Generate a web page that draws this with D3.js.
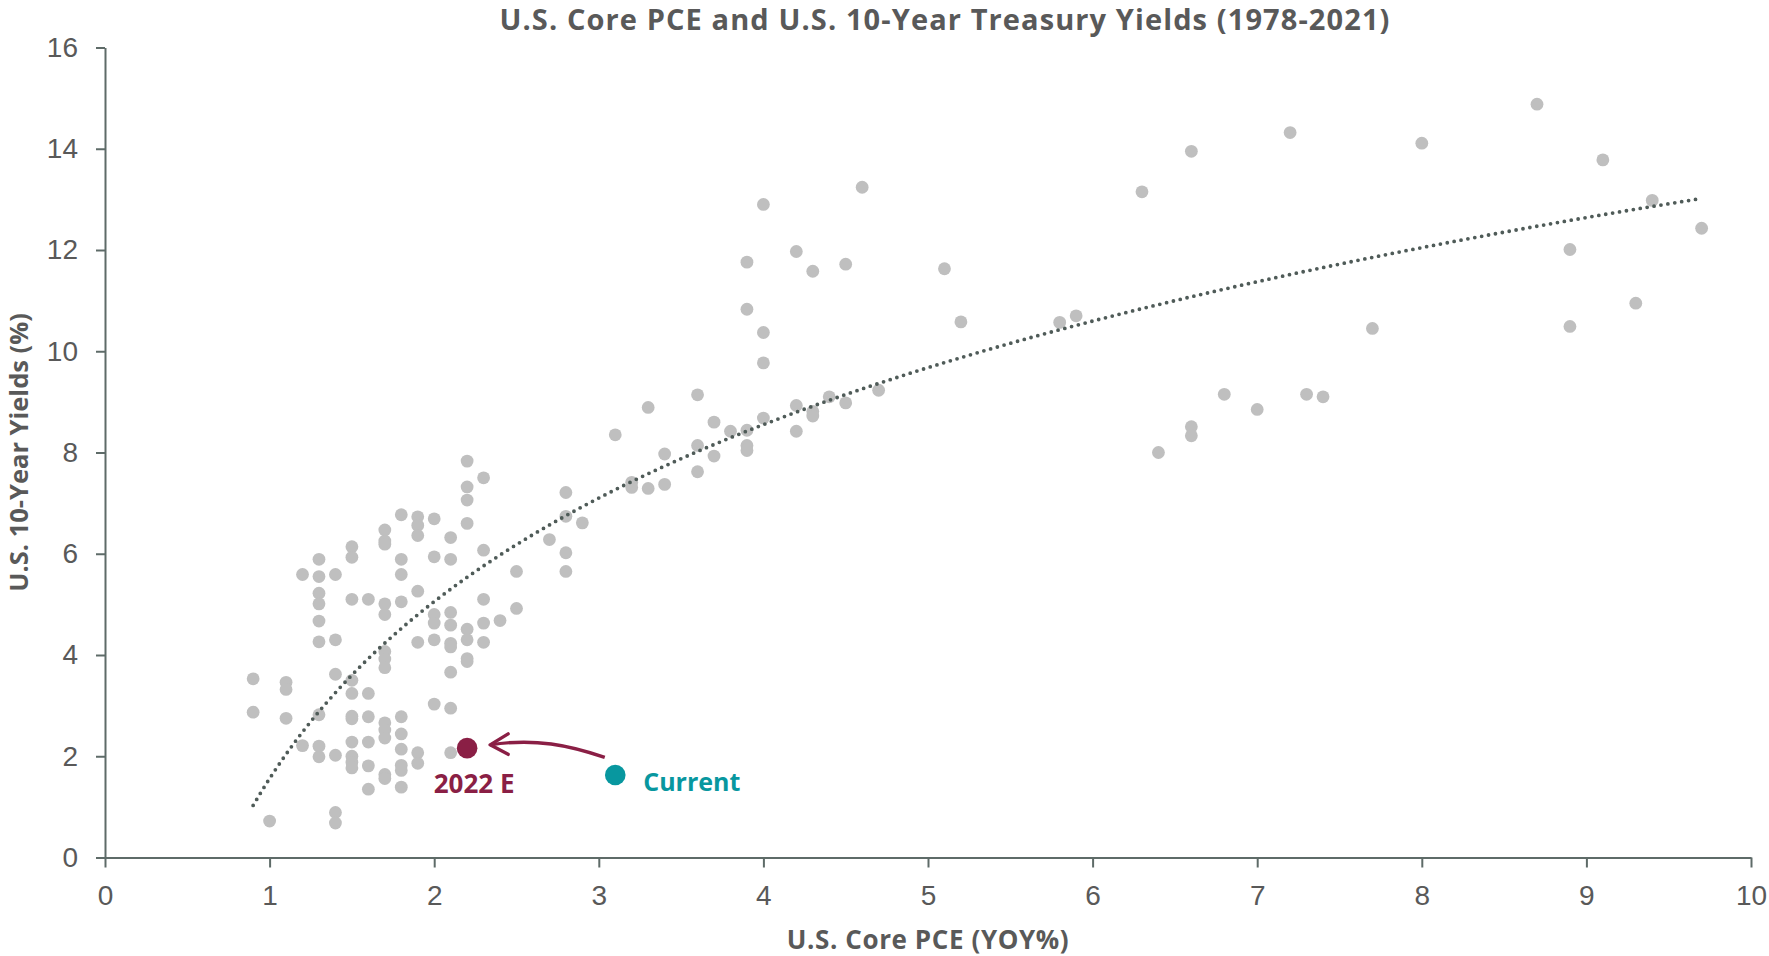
<!DOCTYPE html>
<html>
<head>
<meta charset="utf-8">
<script src="https://cdn.jsdelivr.net/npm/d3@7"></script>
<style>
  body { margin: 0; background: #fff; }
  svg { display: block; font-family: "Open Sans", "Noto Sans", sans-serif; }
  .tick text { fill: #595959; font-size: 28px; font-weight: 300; }
  .axis path, .axis line { stroke: #5e6b68; stroke-width: 2; }
</style>
</head>
<body>
<svg id="chart" width="1769" height="956"></svg>
<script>
// core PCE (YoY %) and 10y yield (%)
const corePce = [
  0.9, 0.9, 1.0, 1.1, 1.1, 1.1, 1.2, 1.2,
  1.3, 1.3, 1.3, 1.3, 1.3, 1.3, 1.3, 1.3, 1.3,
  1.4, 1.4, 1.4, 1.4, 1.4, 1.4,
  1.5, 1.5, 1.5, 1.5, 1.5, 1.5, 1.5, 1.5, 1.5, 1.5, 1.5,
  1.6, 1.6, 1.6, 1.6, 1.6, 1.6,
  1.7, 1.7, 1.7, 1.7, 1.7, 1.7, 1.7, 1.7, 1.7, 1.7, 1.7, 1.7, 1.7,
  1.8, 1.8, 1.8, 1.8, 1.8, 1.8, 1.8, 1.8, 1.8, 1.8,
  1.9, 1.9, 1.9, 1.9, 1.9, 1.9, 1.9,
  2.0, 2.0, 2.0, 2.0, 2.0, 2.0,
  2.1, 2.1, 2.1, 2.1, 2.1, 2.1, 2.1, 2.1, 2.1,
  2.2, 2.2, 2.2, 2.2, 2.2, 2.2, 2.2, 2.2,
  2.3, 2.3, 2.3, 2.3, 2.3,
  2.4, 2.5, 2.5, 2.7, 2.8, 2.8, 2.8, 2.8, 2.9,
  3.1, 3.2, 3.2, 3.3, 3.3, 3.4, 3.4, 3.6, 3.6, 3.6, 3.7, 3.7, 3.8,
  3.9, 3.9, 3.9, 3.9, 3.9, 4.0, 4.0, 4.0, 4.0,
  4.2, 4.2, 4.2, 4.3, 4.3, 4.3, 4.4, 4.5, 4.5, 4.6, 4.7,
  5.1, 5.2, 5.8, 5.9, 6.3, 6.4, 6.6, 6.6, 6.6, 6.8, 7.0, 7.2, 7.3, 7.4,
  7.7, 8.0, 8.7, 8.9, 8.9, 9.1, 9.3, 9.4, 9.7
];
const yield10y = [
  3.53, 2.87, 0.72, 3.46, 3.32, 2.75, 5.59, 2.21,
  5.89, 5.55, 5.22, 5.01, 4.67, 4.26, 2.82, 2.20, 1.99,
  5.59, 4.30, 3.62, 2.02, 0.89, 0.68,
  6.14, 5.93, 5.10, 3.50, 3.24, 2.79, 2.74, 2.28, 2.00, 1.88, 1.77,
  5.10, 3.24, 2.78, 2.28, 1.81, 1.35,
  6.47, 6.25, 6.19, 5.01, 4.80, 4.07, 3.92, 3.75, 2.66, 2.52, 2.36, 1.64, 1.56,
  6.77, 5.89, 5.59, 5.05, 2.78, 2.44, 2.14, 1.82, 1.72, 1.39,
  6.73, 6.56, 6.36, 5.26, 4.25, 2.07, 1.86,
  6.69, 5.94, 4.80, 4.63, 4.30, 3.03,
  6.32, 5.89, 4.84, 4.59, 4.23, 4.16, 3.66, 2.95, 2.07,
  7.83, 7.32, 7.06, 6.60, 4.51, 4.30, 3.93, 3.87,
  7.50, 6.07, 5.10, 4.63, 4.25,
  4.68, 5.65, 4.92, 6.28, 7.21, 6.74, 6.02, 5.65, 6.61,
  8.35, 7.41, 7.31, 8.89, 7.29, 7.97, 7.37, 9.14, 8.14, 7.62, 8.60, 7.93, 8.42,
  11.76, 10.83, 8.44, 8.14, 8.04, 12.90, 10.37, 9.77, 8.68,
  11.97, 8.93, 8.42, 11.58, 8.81, 8.72, 9.10, 11.72, 8.98, 13.24, 9.23,
  11.63, 10.58, 10.57, 10.70, 13.15, 8.00, 13.95, 8.51, 8.33, 9.15, 8.85, 14.32, 9.15, 9.10,
  10.45, 14.11, 14.88, 12.01, 10.49, 13.78, 10.95, 12.98, 12.43
];

// highlighted points
const currentPoint = { pce: 3.1, yld: 1.63, label: "Current" };
const estimatePoint = { pce: 2.2, yld: 2.16, label: "2022 E" };

const xTicks = [0, 1, 2, 3, 4, 5, 6, 7, 8, 9, 10];
const yTicks = [0, 2, 4, 6, 8, 10, 12, 14, 16];

const titleText = "U.S. Core PCE and U.S. 10-Year Treasury Yields (1978-2021)";
const xTitle = "U.S. Core PCE (YOY%)";
const yTitle = "U.S. 10-Year Yields (%)";

const W = 1769, H = 956;
const margin = { top: 47.5, right: 18, bottom: 98.5, left: 105 };
const innerW = W - margin.left - margin.right;
const innerH = H - margin.top - margin.bottom;

const svg = d3.select('#chart');
const g = svg.append('g').attr('transform', `translate(${margin.left},${margin.top})`);

const x = d3.scaleLinear().domain([0, 10]).range([0, innerW]);
const y = d3.scaleLinear().domain([0, 16]).range([innerH, 0]);

const COLOR_DOT = '#bfbfbf';
const COLOR_TREND = '#4f5b58';
const COLOR_EST = '#8a1f45';
const COLOR_CUR = '#08979f';
const COLOR_TEXT = '#595959';

// axes
g.append('g').attr('class', 'axis')
    .attr('transform', `translate(0,${innerH})`)
    .call(d3.axisBottom(x).tickValues(xTicks).tickSize(10).tickSizeOuter(0).tickPadding(18))
    .call(a => a.select('.domain').attr('stroke-width', 2.5));

g.append('g').attr('class', 'axis')
    .call(d3.axisLeft(y).tickValues(yTicks).tickSize(9).tickSizeOuter(0).tickPadding(18));

// scatter points
const pts = corePce.map((v, i) => ({ pce: v, yld: yield10y[i] }));
g.append('g').selectAll('circle').data(pts).enter().append('circle')
    .attr('cx', d => x(d.pce))
    .attr('cy', d => y(d.yld))
    .attr('r', 6.4)
    .attr('fill', COLOR_DOT);

// logarithmic trendline (least squares on ln x), like Excel
const lx = corePce.map(Math.log);
const mx = d3.mean(lx), my = d3.mean(yield10y);
const slope = d3.sum(lx, (v, i) => (v - mx) * (yield10y[i] - my)) / d3.sum(lx, v => (v - mx) * (v - mx));
const icpt = my - slope * mx;
const [xmin, xmax] = d3.extent(corePce);
const trendPts = d3.range(0, 201).map(i => {
    const xv = xmin + (xmax - xmin) * i / 200;
    return [xv, icpt + slope * Math.log(xv)];
});
g.append('path')
    .datum(trendPts)
    .attr('fill', 'none')
    .attr('stroke', COLOR_TREND)
    .attr('stroke-width', 3.8)
    .attr('stroke-linecap', 'round')
    .attr('stroke-dasharray', '0 7')
    .attr('d', d3.line().x(d => x(d[0])).y(d => y(d[1])));

// arrow from current to the 2022 estimate
const cx0 = x(currentPoint.pce), cy0 = y(currentPoint.yld);
const ex0 = x(estimatePoint.pce), ey0 = y(estimatePoint.yld);
const start = [cx0 - 10.5, cy0 - 17.5];
const tip = [ex0 + 23, ey0 - 3.3];
const arrowPath = d3.path();
arrowPath.moveTo(start[0], start[1]);
arrowPath.bezierCurveTo(start[0] - 35, start[1] - 12, tip[0] + 45, tip[1] - 7, tip[0], tip[1]);
g.append('path')
    .attr('d', arrowPath.toString())
    .attr('fill', 'none')
    .attr('stroke', COLOR_EST)
    .attr('stroke-width', 3.4);
g.append('path')
    .attr('d', `M${tip[0] + 18},${tip[1] - 11} L${tip[0]},${tip[1]} L${tip[0] + 18},${tip[1] + 9.5}`)
    .attr('fill', 'none')
    .attr('stroke', COLOR_EST)
    .attr('stroke-width', 3.4)
    .attr('stroke-linecap', 'round')
    .attr('stroke-linejoin', 'round');

g.append('circle').attr('cx', ex0).attr('cy', ey0).attr('r', 10.3).attr('fill', COLOR_EST);
g.append('circle').attr('cx', cx0).attr('cy', cy0).attr('r', 10.3).attr('fill', COLOR_CUR);

g.append('text')
    .attr('x', ex0 + 7).attr('y', ey0 + 45)
    .attr('text-anchor', 'middle')
    .attr('font-size', 26).attr('font-weight', 700)
    .attr('fill', COLOR_EST)
    .text(estimatePoint.label);

g.append('text')
    .attr('x', cx0 + 28).attr('y', cy0 + 16)
    .attr('font-size', 25).attr('font-weight', 700)
    .attr('fill', COLOR_CUR)
    .text(currentPoint.label);

// titles
svg.append('text')
    .attr('x', 945).attr('y', 30)
    .attr('text-anchor', 'middle')
    .attr('font-size', 29).attr('font-weight', 700)
    .attr('letter-spacing', 1.1)
    .attr('fill', COLOR_TEXT)
    .text(titleText);

svg.append('text')
    .attr('x', margin.left + innerW / 2).attr('y', 949)
    .attr('text-anchor', 'middle')
    .attr('font-size', 26).attr('font-weight', 700)
    .attr('letter-spacing', 0.6)
    .attr('fill', COLOR_TEXT)
    .text(xTitle);

svg.append('text')
    .attr('transform', `translate(28,${margin.top + innerH / 2}) rotate(-90)`)
    .attr('text-anchor', 'middle')
    .attr('font-size', 25.5).attr('font-weight', 700)
    .attr('fill', COLOR_TEXT)
    .text(yTitle);
</script>
</body>
</html>
